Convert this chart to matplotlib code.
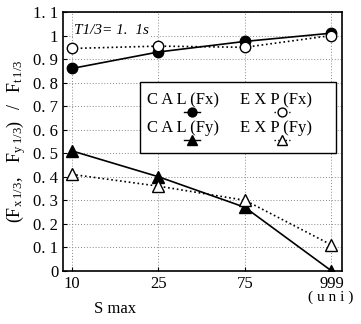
import matplotlib
matplotlib.use("Agg")
import matplotlib.pyplot as plt
from matplotlib.patches import Rectangle

plt.rcParams['font.family'] = ['Liberation Serif', 'DejaVu Serif']
plt.rcParams['mathtext.fontset'] = 'custom'
plt.rcParams['mathtext.rm'] = 'Liberation Serif'

categories = ["10", "25", "75", "999"]
cal_fx = [0.86, 0.93, 0.975, 1.01]
exp_fx = [0.945, 0.955, 0.95, 1.0]
cal_fy = [0.51, 0.40, 0.27, 0.0]
exp_fy = [0.41, 0.36, 0.30, 0.11]
yticks = [0, 0.1, 0.2, 0.3, 0.4, 0.5, 0.6, 0.7, 0.8, 0.9, 1.0, 1.1]
ytick_labels = ["0", "0. 1", "0. 2", "0. 3", "0. 4", "0. 5", "0. 6", "0. 7",
                "0. 8", "0. 9", "1", "1. 1"]

fig = plt.figure(figsize=(3.61, 3.24), dpi=100)
ax = fig.add_axes([0.175, 0.164, 0.772, 0.799])

styles = [
    ("C A L (Fx)", cal_fx, '-', 'o', 'black', 7.5),
    ("E X P (Fx)", exp_fx, ':', 'o', 'white', 7.5),
    ("C A L (Fy)", cal_fy, '-', '^', 'black', 9),
    ("E X P (Fy)", exp_fy, ':', '^', 'white', 9),
]

x = list(range(len(categories)))
for lab, vals, ls, mk, fc, ms in styles:
    ax.plot(x, vals, ls, color='black', lw=1.2, marker=mk, ms=ms,
            mfc=fc, mec='black', zorder=3)

ax.set_xlim(-0.1, 3.12)
ax.set_ylim(0, 1.1)
ax.set_xticks(x)
ax.set_xticklabels(categories, fontsize=12)
ax.set_yticks(yticks)
ax.set_yticklabels(ytick_labels, fontsize=12)
ax.tick_params(direction='in', length=3, width=0.8)
ax.grid(True, linestyle=(0, (1, 2)), color='#888888', lw=0.7)
for s in ax.spines.values():
    s.set_linewidth(1.2)

ax.text(0.04, 0.955, "T1/3= 1.  1s", transform=ax.transAxes, fontsize=11,
        style='italic', va='top', ha='left',
        bbox=dict(facecolor='white', edgecolor='none', pad=1))

# legend box drawn by hand: text with the sample line under it
ax.add_patch(Rectangle((0.276, 0.456), 0.702, 0.274, transform=ax.transAxes,
                       facecolor='white', edgecolor='black', lw=1.0, zorder=4))
text_x = [0.30, 0.635, 0.30, 0.635]
text_y = [0.66, 0.66, 0.552, 0.552]
mark_x = [0.462, 0.785, 0.462, 0.785]
for (lab, vals, ls, mk, fc, ms), tx, ty, mx in zip(styles, text_x, text_y, mark_x):
    ax.text(tx, ty, lab, transform=ax.transAxes, fontsize=12, va='center',
            ha='left', zorder=5)
    ax.plot([mx - 0.03, mx + 0.03], [ty - 0.045, ty - 0.045], ls, color='black',
            lw=1.0, transform=ax.transAxes, zorder=5, clip_on=False)
    ax.plot([mx], [ty - 0.045], marker=mk, ms=ms * 0.85, mfc=fc, mec='black',
            transform=ax.transAxes, zorder=6, clip_on=False)

ax.set_ylabel(r"$(\mathrm{F_{x\,1/3}},\ \ \mathrm{F_{y\,1/3}})\ \ /\ \ \mathrm{F_{t\,1/3}}$",
              fontsize=13, labelpad=4)
fig.text(0.32, 0.035, "S max", fontsize=12, ha='center')
fig.text(0.915, 0.07, "( u n i )", fontsize=11, ha='center')

fig.savefig("out.png", dpi=100)
